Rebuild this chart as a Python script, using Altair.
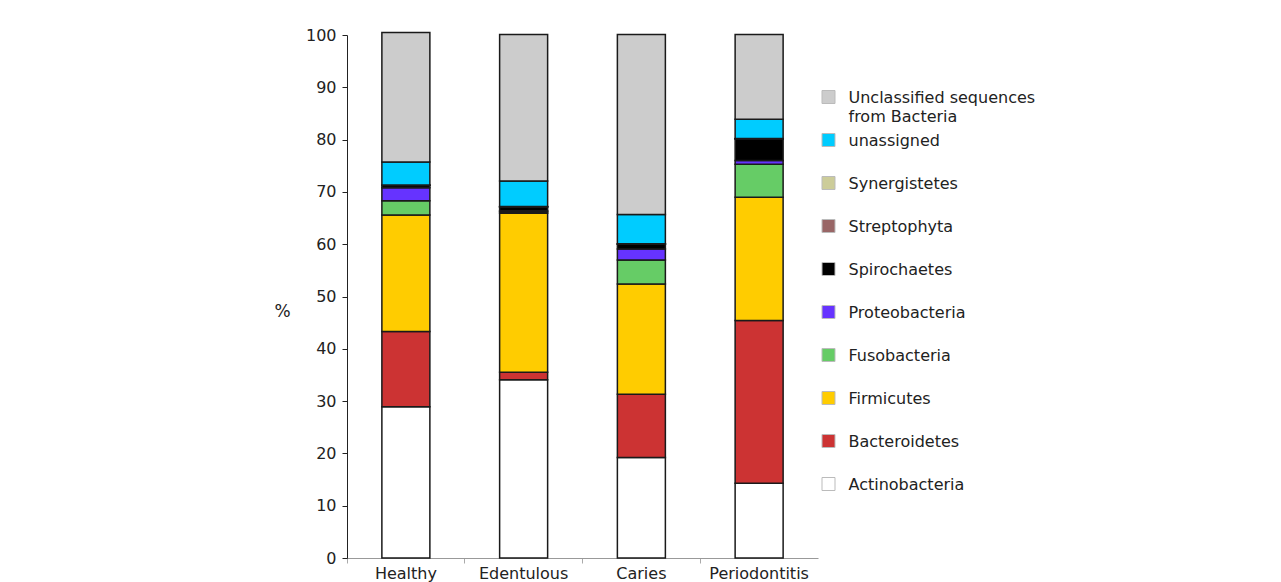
import altair as alt
import pandas as pd

categories = ["Healthy", "Edentulous", "Caries", "Periodontitis"]
series = ["Actinobacteria", "Bacteroidetes", "Firmicutes", "Fusobacteria",
          "Proteobacteria", "Spirochaetes", "Streptophyta", "Synergistetes",
          "unassigned", "Unclassified sequences from Bacteria"]
legend_labels = ["Actinobacteria", "Bacteroidetes", "Firmicutes", "Fusobacteria",
                 "Proteobacteria", "Spirochaetes", "Streptophyta", "Synergistetes",
                 "unassigned", "Unclassified sequences\nfrom Bacteria"]
colors = ["#ffffff", "#cc3333", "#ffcc00", "#66cc66", "#6633ff", "#000000",
          "#996666", "#cccc99", "#00ccff", "#cccccc"]

actinobacteria = [28.9, 34.1, 19.2, 14.3]
bacteroidetes = [14.4, 1.4, 12.1, 31.1]
firmicutes = [22.3, 30.4, 21.1, 23.6]
fusobacteria = [2.7, 0.3, 4.6, 6.3]
proteobacteria = [2.5, 0.2, 2.1, 0.7]
spirochaetes = [0.4, 0.7, 0.9, 4.1]
streptophyta = [0.05, 0.05, 0.05, 0.05]
synergistetes = [0.05, 0.05, 0.05, 0.05]
unassigned = [4.4, 4.9, 5.6, 3.7]
unclassified = [24.8, 28.0, 34.4, 16.2]

values = [actinobacteria, bacteroidetes, firmicutes, fusobacteria, proteobacteria,
          spirochaetes, streptophyta, synergistetes, unassigned, unclassified]

rows = []
for si, (s, vals) in enumerate(zip(series, values)):
    for c, v in zip(categories, vals):
        rows.append({"category": c, "series": s, "value": v, "order": si})
df = pd.DataFrame(rows)

legend_order = series[::-1]
legend_df = pd.DataFrame({"series": series, "label": legend_labels})

FONT = "DejaVu Sans"
color_scale = alt.Scale(domain=series, range=colors)

bars = alt.Chart(df).mark_bar(size=48, stroke="#1a1a1a", strokeWidth=1.5).encode(
    x=alt.X("category:N", sort=categories, title=None,
            scale=alt.Scale(paddingInner=0, paddingOuter=0),
            axis=alt.Axis(labelAngle=0, bandPosition=0, domainColor="#999999",
                          tickColor="#aaaaaa", tickSize=5, labelFontSize=16,
                          labelColor="#222222", labelFont=FONT, labelPadding=2)),
    y=alt.Y("value:Q", stack="zero", scale=alt.Scale(domain=[0, 100], nice=False),
            axis=alt.Axis(values=list(range(0, 101, 10)), title="%", titleAngle=0,
                          titleAlign="center", titleBaseline="middle",
                          titleX=-65, titleY=276, titleFontSize=17,
                          titleFontWeight="normal", titleFont=FONT, titleColor="#222222",
                          labelFontSize=16, labelFont=FONT, labelColor="#222222",
                          domainColor="#222222", tickColor="#222222", tickSize=5,
                          grid=False, labelPadding=6)),
    color=alt.Color("series:N", scale=color_scale, legend=None),
    order=alt.Order("order:Q", sort="ascending"),
).properties(width=471, height=523)

lbase = alt.Chart(legend_df).encode(
    y=alt.Y("series:N", sort=legend_order, axis=None,
            scale=alt.Scale(type="point", padding=0, range=[62, 449])),
)
lsym = lbase.mark_square(size=169, stroke="#bbbbbb", strokeWidth=1, opacity=1).encode(
    fill=alt.Fill("series:N", scale=color_scale, legend=None),
)
ltext = lbase.mark_text(align="left", baseline="alphabetic", dx=20, dy=6, fontSize=16,
                        font=FONT, color="#222222", lineBreak="\n", lineHeight=19).encode(
    text="label:N",
)
legend = alt.layer(lsym, ltext).properties(width=13, height=511)

chart = alt.hconcat(bars, legend, spacing=2).properties(
    padding={"left": 265, "top": 19, "right": 5, "bottom": 5}
).configure_view(stroke=None)

chart.save("out.html", embed_options={"renderer": "svg", "actions": False})
